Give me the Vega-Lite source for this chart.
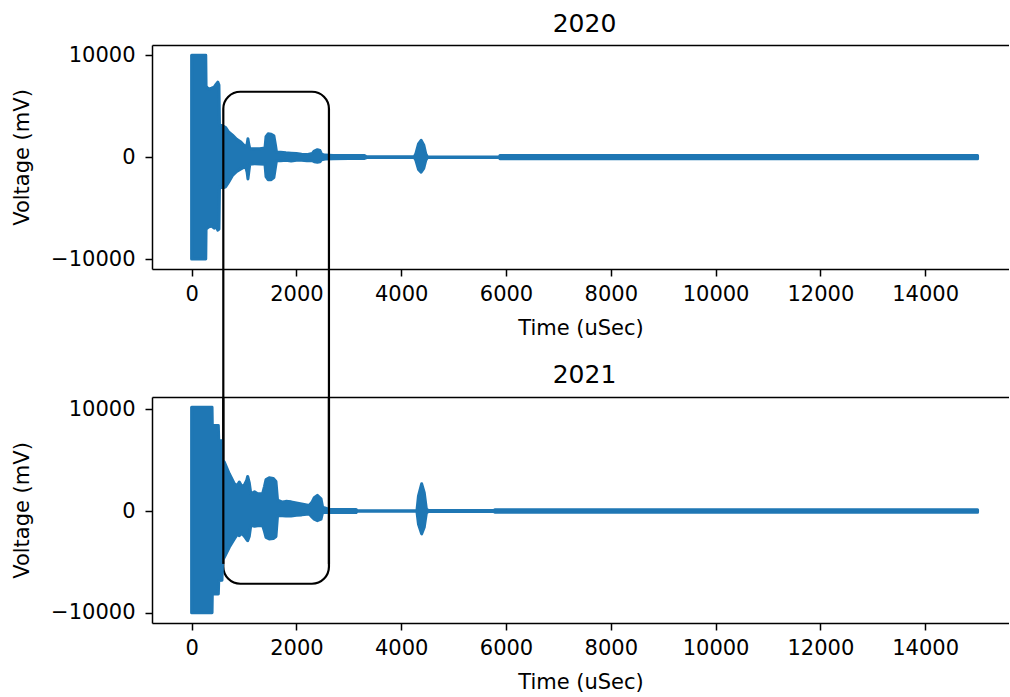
{
  "$schema": "https://vega.github.io/schema/vega-lite/v6.json",
  "padding": {"left": 11, "top": 11, "right": 0, "bottom": 0},
  "bounds": "flush",
  "spacing": 128,
  "config": {
    "font": "DejaVu Sans",
    "view": {"stroke": null},
    "axis": {
      "domainColor": "black", "domainWidth": 1.5,
      "tickColor": "black", "tickWidth": 1.5, "tickSize": 7,
      "labelFont": "DejaVu Sans", "labelFontSize": 21, "labelColor": "black", "labelPadding": 10, "labelFlush": false,
      "titleFont": "DejaVu Sans", "titleFontSize": 21, "titleFontWeight": "normal", "titleColor": "black",
      "grid": false
    },
    "axisX": {"titlePadding": 13, "labelPadding": 7},
    "axisY": {"titlePadding": 18},
    "title": {"font": "DejaVu Sans", "fontSize": 25, "fontWeight": "normal", "color": "black", "baseline": "alphabetic", "offset": 7.5, "dx": 4}
  },
  "datasets": {
    "d2020": [
      {"t": 0, "hi": 9970, "lo": -9970},
      {"t": 270, "hi": 9970, "lo": -9970},
      {"t": 276, "hi": 6950, "lo": -7050},
      {"t": 320, "hi": 6650, "lo": -6850},
      {"t": 380, "hi": 6750, "lo": -6750},
      {"t": 430, "hi": 6850, "lo": -6950},
      {"t": 470, "hi": 7150, "lo": -6850},
      {"t": 500, "hi": 7350, "lo": -7150},
      {"t": 522, "hi": 7050, "lo": -7050},
      {"t": 532, "hi": 3150, "lo": -2950},
      {"t": 600, "hi": 3050, "lo": -3000},
      {"t": 650, "hi": 2900, "lo": -2900},
      {"t": 700, "hi": 2500, "lo": -2500},
      {"t": 780, "hi": 2150, "lo": -1800},
      {"t": 860, "hi": 1750, "lo": -1400},
      {"t": 940, "hi": 1480, "lo": -1150},
      {"t": 1030, "hi": 1000, "lo": -900},
      {"t": 1060, "hi": 1300, "lo": -1500},
      {"t": 1075, "hi": 1800, "lo": -2130},
      {"t": 1090, "hi": 1300, "lo": -1500},
      {"t": 1110, "hi": 850, "lo": -700},
      {"t": 1200, "hi": 830, "lo": -650},
      {"t": 1300, "hi": 830, "lo": -660},
      {"t": 1400, "hi": 900, "lo": -700},
      {"t": 1420, "hi": 2000, "lo": -1900},
      {"t": 1460, "hi": 2290, "lo": -2200},
      {"t": 1520, "hi": 2250, "lo": -2200},
      {"t": 1570, "hi": 2100, "lo": -2000},
      {"t": 1600, "hi": 1200, "lo": -1000},
      {"t": 1620, "hi": 500, "lo": -340},
      {"t": 1700, "hi": 480, "lo": -350},
      {"t": 1800, "hi": 420, "lo": -300},
      {"t": 1900, "hi": 380, "lo": -380},
      {"t": 2000, "hi": 350, "lo": -300},
      {"t": 2100, "hi": 280, "lo": -300},
      {"t": 2200, "hi": 250, "lo": -350},
      {"t": 2300, "hi": 350, "lo": -350},
      {"t": 2340, "hi": 600, "lo": -450},
      {"t": 2400, "hi": 730, "lo": -500},
      {"t": 2450, "hi": 650, "lo": -450},
      {"t": 2480, "hi": 300, "lo": -250},
      {"t": 2550, "hi": 200, "lo": -180},
      {"t": 2700, "hi": 170, "lo": -150},
      {"t": 3000, "hi": 160, "lo": -140},
      {"t": 3300, "hi": 150, "lo": -130},
      {"t": 3340, "hi": 40, "lo": -40},
      {"t": 4250, "hi": 40, "lo": -40},
      {"t": 4280, "hi": 350, "lo": -300},
      {"t": 4330, "hi": 1300, "lo": -1200},
      {"t": 4380, "hi": 1650, "lo": -1470},
      {"t": 4430, "hi": 1200, "lo": -1100},
      {"t": 4470, "hi": 300, "lo": -300},
      {"t": 4500, "hi": 30, "lo": -30},
      {"t": 5870, "hi": 20, "lo": -20},
      {"t": 5885, "hi": 150, "lo": -150},
      {"t": 15000, "hi": 150, "lo": -150}
    ],
    "d2021": [
      {"t": 0, "hi": 10200, "lo": -10000},
      {"t": 390, "hi": 10200, "lo": -10000},
      {"t": 395, "hi": 8400, "lo": -8150},
      {"t": 510, "hi": 8400, "lo": -8150},
      {"t": 518, "hi": 6940, "lo": -6840},
      {"t": 580, "hi": 6900, "lo": -6800},
      {"t": 590, "hi": 5000, "lo": -4800},
      {"t": 624, "hi": 4810, "lo": -4550},
      {"t": 719, "hi": 3660, "lo": -3560},
      {"t": 815, "hi": 2680, "lo": -2750},
      {"t": 870, "hi": 2500, "lo": -2300},
      {"t": 910, "hi": 2850, "lo": -2420},
      {"t": 960, "hi": 2400, "lo": -2200},
      {"t": 1010, "hi": 2600, "lo": -2500},
      {"t": 1050, "hi": 3000, "lo": -2800},
      {"t": 1070, "hi": 3400, "lo": -2910},
      {"t": 1100, "hi": 2800, "lo": -2500},
      {"t": 1130, "hi": 1700, "lo": -1400},
      {"t": 1200, "hi": 1900, "lo": -1500},
      {"t": 1260, "hi": 1700, "lo": -1440},
      {"t": 1355, "hi": 1700, "lo": -1440},
      {"t": 1390, "hi": 2400, "lo": -2000},
      {"t": 1420, "hi": 3100, "lo": -2600},
      {"t": 1480, "hi": 3270, "lo": -2750},
      {"t": 1560, "hi": 3200, "lo": -2700},
      {"t": 1610, "hi": 2900, "lo": -2500},
      {"t": 1640, "hi": 1080, "lo": -460},
      {"t": 1735, "hi": 880, "lo": -460},
      {"t": 1800, "hi": 950, "lo": -500},
      {"t": 1900, "hi": 900, "lo": -480},
      {"t": 2000, "hi": 800, "lo": -420},
      {"t": 2100, "hi": 700, "lo": -380},
      {"t": 2245, "hi": 550, "lo": -300},
      {"t": 2300, "hi": 900, "lo": -600},
      {"t": 2340, "hi": 1300, "lo": -800},
      {"t": 2400, "hi": 1540, "lo": -950},
      {"t": 2470, "hi": 1200, "lo": -800},
      {"t": 2500, "hi": 390, "lo": -130},
      {"t": 2630, "hi": 150, "lo": -150},
      {"t": 3140, "hi": 150, "lo": -150},
      {"t": 3160, "hi": 30, "lo": -30},
      {"t": 4300, "hi": 30, "lo": -30},
      {"t": 4330, "hi": 1500, "lo": -1300},
      {"t": 4390, "hi": 2680, "lo": -2250},
      {"t": 4440, "hi": 1800, "lo": -1600},
      {"t": 4480, "hi": 200, "lo": -200},
      {"t": 4520, "hi": 40, "lo": -40},
      {"t": 5770, "hi": 40, "lo": -40},
      {"t": 5785, "hi": 120, "lo": -120},
      {"t": 15000, "hi": 120, "lo": -120}
    ],
    "box": [
      {"t1": 605, "t2": 2621, "v1": 6403, "v2": -41766}
    ],
    "boxEdges": [
      {"t": 605, "top": 11210, "bot": -5200},
      {"t": 2621, "top": 11210, "bot": -5200}
    ],
    "frame": [
      {"t": 0}
    ]
  },
  "vconcat": [
    {
      "title": "2020",
      "width": 857,
      "height": 224,
      "layer": [
        {
          "data": {"name": "d2020"},
          "mark": {"type": "area", "color": "#1f77b4", "stroke": "#1f77b4", "strokeWidth": 3, "strokeJoin": "round", "opacity": 1},
          "encoding": {
            "x": {"field": "t", "type": "quantitative", "scale": {"domain": [-756, 15600], "nice": false, "zero": false},
                  "axis": {"values": [0, 2000, 4000, 6000, 8000, 10000, 12000, 14000], "format": "d", "title": "Time (uSec)"}},
            "y": {"field": "hi", "type": "quantitative", "scale": {"domain": [-10950, 10980], "nice": false, "zero": false},
                  "axis": {"values": [-10000, 0, 10000], "format": "d", "title": "Voltage (mV)"}},
            "y2": {"field": "lo"}
          }
        },
        {
          "data": {"name": "frame"},
          "mark": {"type": "point", "opacity": 0},
          "encoding": {
            "x": {"field": "t", "type": "quantitative", "scale": {"domain": [-756, 15600], "nice": false, "zero": false},
                  "axis": {"orient": "top", "labels": false, "ticks": false, "title": null}}
          }
        },
        {
          "data": {"name": "box"},
          "mark": {"type": "rect", "fill": "transparent", "stroke": "black", "strokeWidth": 2.2, "cornerRadius": 17, "clip": false},
          "encoding": {
            "x": {"field": "t1", "type": "quantitative", "scale": {"domain": [-756, 15600], "nice": false, "zero": false}, "axis": null},
            "x2": {"field": "t2"},
            "y": {"field": "v1", "type": "quantitative", "scale": {"domain": [-10950, 10980], "nice": false, "zero": false}, "axis": null},
            "y2": {"field": "v2"}
          }
        }
      ],
      "resolve": {"axis": {"x": "independent", "y": "independent"}}
    },
    {
      "title": "2021",
      "width": 857,
      "height": 226,
      "layer": [
        {
          "data": {"name": "d2021"},
          "mark": {"type": "area", "color": "#1f77b4", "stroke": "#1f77b4", "strokeWidth": 3, "strokeJoin": "round", "opacity": 1},
          "encoding": {
            "x": {"field": "t", "type": "quantitative", "scale": {"domain": [-756, 15600], "nice": false, "zero": false},
                  "axis": {"values": [0, 2000, 4000, 6000, 8000, 10000, 12000, 14000], "format": "d", "title": "Time (uSec)"}},
            "y": {"field": "hi", "type": "quantitative", "scale": {"domain": [-11010, 11210], "nice": false, "zero": false},
                  "axis": {"values": [-10000, 0, 10000], "format": "d", "title": "Voltage (mV)"}},
            "y2": {"field": "lo"}
          }
        },
        {
          "data": {"name": "frame"},
          "mark": {"type": "point", "opacity": 0},
          "encoding": {
            "x": {"field": "t", "type": "quantitative", "scale": {"domain": [-756, 15600], "nice": false, "zero": false},
                  "axis": {"orient": "top", "labels": false, "ticks": false, "title": null}}
          }
        },
        {
          "data": {"name": "boxEdges"},
          "mark": {"type": "rule", "color": "black", "strokeWidth": 2.2},
          "encoding": {
            "x": {"field": "t", "type": "quantitative", "scale": {"domain": [-756, 15600], "nice": false, "zero": false}, "axis": null},
            "y": {"field": "top", "type": "quantitative", "scale": {"domain": [-11010, 11210], "nice": false, "zero": false}, "axis": null},
            "y2": {"field": "bot"}
          }
        }
      ],
      "resolve": {"axis": {"x": "independent", "y": "independent"}}
    }
  ]
}
